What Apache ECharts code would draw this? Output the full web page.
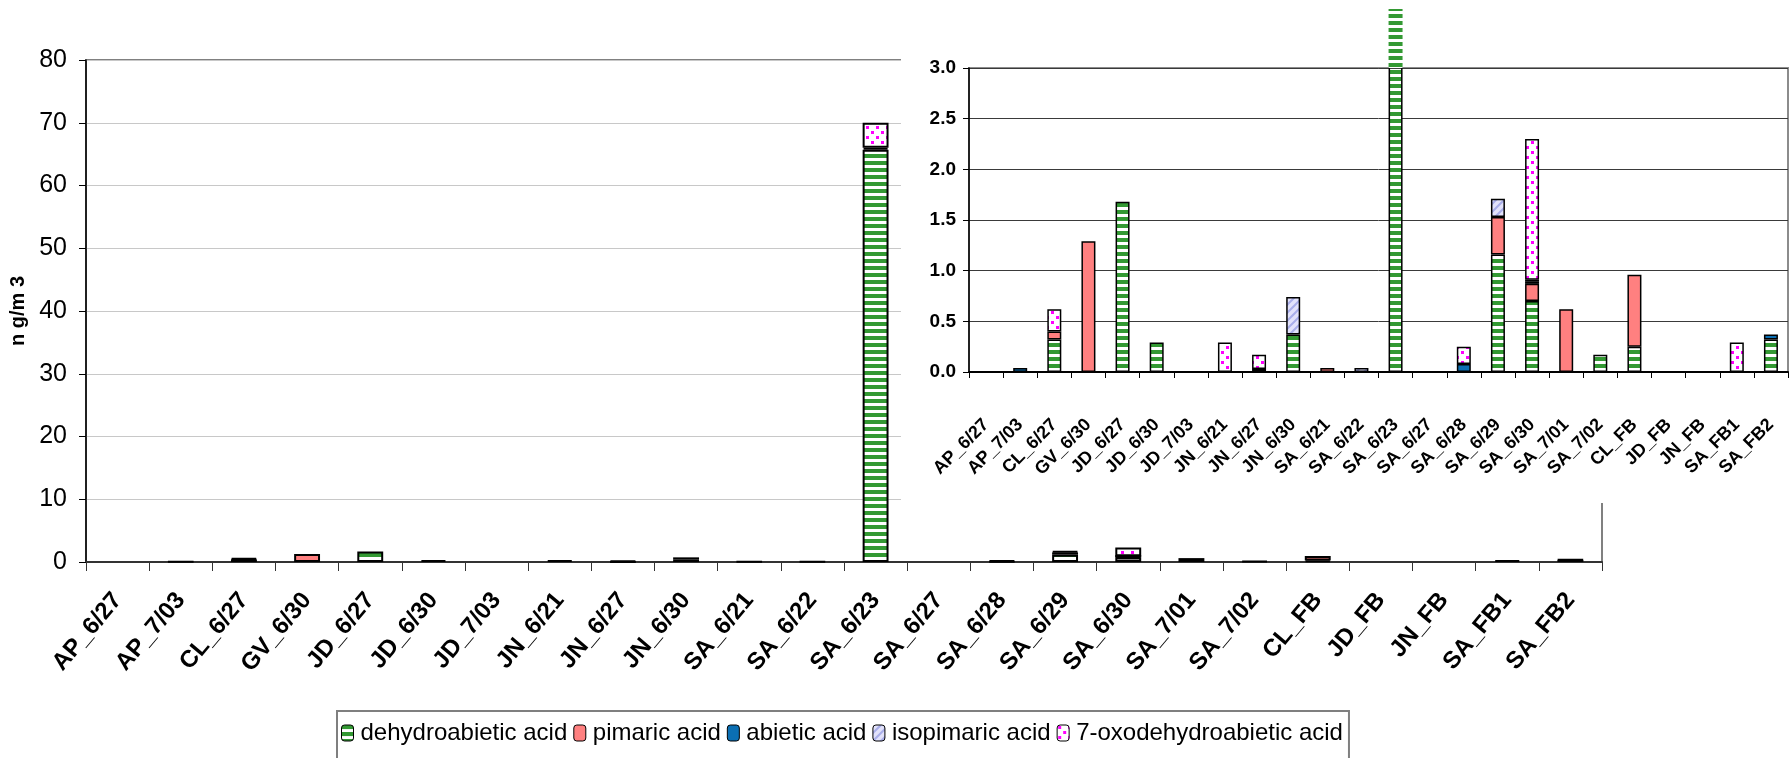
<!DOCTYPE html>
<html>
<head>
<meta charset="utf-8">
<script src="https://cdn.jsdelivr.net/npm/echarts@6/dist/echarts.min.js"></script>
<style>
  html, body { margin: 0; padding: 0; background: #fff; }
  #chart { width: 1792px; height: 758px; }
</style>
</head>
<body>
<div id="chart"></div>
<script>
// Sampling sites and dates
const categories = ['AP_6/27', 'AP_7/03', 'CL_6/27', 'GV_6/30', 'JD_6/27', 'JD_6/30', 'JD_7/03',
  'JN_6/21', 'JN_6/27', 'JN_6/30', 'SA_6/21', 'SA_6/22', 'SA_6/23', 'SA_6/27', 'SA_6/28',
  'SA_6/29', 'SA_6/30', 'SA_7/01', 'SA_7/02', 'CL_FB', 'JD_FB', 'JN_FB', 'SA_FB1', 'SA_FB2'];

// Resin acid concentrations, ng/m3
const dehydroabietic = [0, 0, 0.32, 0, 1.68, 0.29, 0, 0, 0.03, 0.37, 0, 0, 65.7, 0, 0, 1.16, 0.70, 0, 0.17, 0.25, 0, 0, 0, 0.32];
const pimaric = [0, 0, 0.08, 1.29, 0, 0, 0, 0, 0, 0, 0.04, 0, 0.3, 0, 0, 0.37, 0.17, 0.62, 0, 0.71, 0, 0, 0, 0];
const abietic = [0, 0.04, 0, 0, 0, 0, 0, 0, 0, 0, 0, 0, 0, 0, 0.08, 0, 0.02, 0, 0, 0, 0, 0, 0, 0.05];
const isopimaric = [0, 0, 0, 0, 0, 0, 0, 0, 0, 0.37, 0, 0.04, 0, 0, 0, 0.18, 0.02, 0, 0, 0, 0, 0, 0, 0];
const oxodehydroabietic = [0, 0, 0.22, 0, 0, 0, 0, 0.29, 0.14, 0, 0, 0, 4.0, 0, 0.17, 0, 1.39, 0, 0, 0, 0, 0, 0.29, 0];

// Axis ticks
const mainTicks = [0, 10, 20, 30, 40, 50, 60, 70, 80];
const insetTicks = [0.0, 0.5, 1.0, 1.5, 2.0, 2.5, 3.0];

// ---- fill patterns ----
function makePattern(w, h, draw) {
  const c = document.createElement('canvas');
  c.width = w; c.height = h;
  draw(c.getContext('2d'), w, h);
  return { image: c, repeat: 'repeat' };
}
const stripeFill = makePattern(8, 7, (g, w, h) => {
  g.fillStyle = '#ffffff'; g.fillRect(0, 0, w, h);
  g.fillStyle = '#339933'; g.fillRect(0, 0, w, 4);
});
const hatchFill = makePattern(8, 8, (g, w, h) => {
  g.fillStyle = '#e2e2fb'; g.fillRect(0, 0, w, h);
  g.strokeStyle = '#a9aeea'; g.lineWidth = 2;
  g.beginPath();
  g.moveTo(-2, 10); g.lineTo(10, -2);
  g.moveTo(-2, 2); g.lineTo(2, -2);
  g.moveTo(6, 10); g.lineTo(10, 6);
  g.stroke();
});
const dotFill = makePattern(10, 10, (g, w, h) => {
  g.fillStyle = '#ffffff'; g.fillRect(0, 0, w, h);
  g.fillStyle = '#ff00ff';
  g.fillRect(1, 1, 3, 3);
  g.fillRect(6, 6, 3, 3);
});

const acids = [
  { name: 'dehydroabietic acid', data: dehydroabietic, color: stripeFill },
  { name: 'pimaric acid', data: pimaric, color: '#ff8080' },
  { name: 'abietic acid', data: abietic, color: '#0b6fb3' },
  { name: 'isopimaric acid', data: isopimaric, color: hatchFill },
  { name: '7-oxodehydroabietic acid', data: oxodehydroabietic, color: dotFill }
];

const FONT = "'Liberation Sans', Arial, sans-serif";

// inset panel geometry
const insetTop = 68, insetBottom = 372, overflowTop = 9;
const insetMax = insetTicks[insetTicks.length - 1];
const overflowMax = insetMax * (insetBottom - overflowTop) / (insetBottom - insetTop);

const nz = arr => arr.map(v => (v === 0 ? '-' : v));

const series = [];
acids.forEach(a => {
  series.push({
    name: a.name, type: 'bar', stack: 'main', xAxisIndex: 0, yAxisIndex: 0,
    barWidth: '41%', data: nz(a.data), z: 2,
    itemStyle: { color: a.color, borderColor: '#000', borderWidth: 2 }
  });
});
acids.forEach(a => {
  series.push({
    name: a.name, type: 'bar', stack: 'inset', xAxisIndex: 1, yAxisIndex: 1,
    barWidth: '41%', data: nz(a.data), z: 5,
    itemStyle: { color: a.color, borderColor: '#000', borderWidth: 1.5 }
  });
});
// the part of the tallest column that rises above the inset's top line
series.push({
  name: acids[0].name, type: 'bar', xAxisIndex: 2, yAxisIndex: 2,
  barWidth: '41%', data: nz(acids[0].data), z: 5,
  itemStyle: { color: acids[0].color, borderWidth: 0 }
});

const option = {
  animation: false,
  backgroundColor: '#ffffff',
  textStyle: { fontFamily: FONT },
  graphic: [{
    type: 'rect', z: 1, silent: true,
    shape: { x: 901, y: 0, width: 891, height: 503 },
    style: { fill: '#ffffff' }
  }],
  legend: {
    data: acids.map(a => a.name),
    left: 337, top: 711,
    itemWidth: 12, itemHeight: 16, itemGap: 6,
    padding: [10, 6, 24, 4],
    borderColor: '#7f7f7f', borderWidth: 2,
    itemStyle: { borderColor: '#000', borderWidth: 1 },
    textStyle: { fontFamily: FONT, fontSize: 24, color: '#000', padding: [0, 0, 0, 2] }
  },
  grid: [
    { left: 86, right: 190, top: 60, bottom: 196, show: true, borderColor: '#808080', borderWidth: 2, backgroundColor: 'transparent', z: 0 },
    { left: 969, right: 4, top: insetTop, bottom: 758 - insetBottom, show: true, borderColor: '#8c8c8c', borderWidth: 2, backgroundColor: '#fff', z: 2 },
    { left: 969, right: 4, top: overflowTop, bottom: 758 - insetTop, show: false }
  ],
  xAxis: [
    {
      type: 'category', gridIndex: 0, data: categories,
      axisLine: { lineStyle: { color: '#333', width: 2 } },
      axisTick: { show: true, length: 9, lineStyle: { color: '#333', width: 1 } },
      axisLabel: { interval: 0, rotate: 50, margin: 34, fontFamily: FONT, fontWeight: 'bold', fontSize: 24, color: '#000' }
    },
    {
      type: 'category', gridIndex: 1, data: categories, z: 4,
      axisLine: { lineStyle: { color: '#000', width: 2 } },
      axisTick: { show: true, length: 6, lineStyle: { color: '#000', width: 1 } },
      axisLabel: { interval: 0, rotate: 45, margin: 50, fontFamily: FONT, fontWeight: 'bold', fontSize: 18, color: '#000' }
    },
    { type: 'category', gridIndex: 2, data: categories, show: false }
  ],
  yAxis: [
    {
      type: 'value', gridIndex: 0, min: mainTicks[0], max: mainTicks[mainTicks.length - 1], interval: mainTicks[1] - mainTicks[0],
      name: 'n g/m 3', nameLocation: 'middle', nameGap: 39, nameRotate: 90,
      nameTextStyle: { fontFamily: FONT, fontWeight: 'bold', fontSize: 20, color: '#000' },
      axisLine: { show: true, lineStyle: { color: '#000', width: 1.5 } },
      axisTick: { show: true, length: 7, lineStyle: { color: '#000' } },
      axisLabel: { margin: 19, fontFamily: FONT, fontSize: 25, color: '#000' },
      splitLine: { lineStyle: { color: '#c8c8c8', width: 1 } }
    },
    {
      type: 'value', gridIndex: 1, min: insetTicks[0], max: insetMax, interval: insetTicks[1] - insetTicks[0], z: 4,
      axisLine: { show: true, lineStyle: { color: '#000', width: 1.5 } },
      axisTick: { show: true, length: 6, lineStyle: { color: '#000' } },
      axisLabel: { margin: 13, fontFamily: FONT, fontWeight: 'bold', fontSize: 19, color: '#000', formatter: v => v.toFixed(1) },
      splitLine: { lineStyle: { color: '#3a3a3a', width: 1 } }
    },
    { type: 'value', gridIndex: 2, min: insetMax, max: overflowMax, show: false, splitLine: { show: false } }
  ],
  series: series
};

const chart = echarts.init(document.getElementById('chart'), null, { renderer: 'canvas' });
chart.setOption(option);
</script>
</body>
</html>
